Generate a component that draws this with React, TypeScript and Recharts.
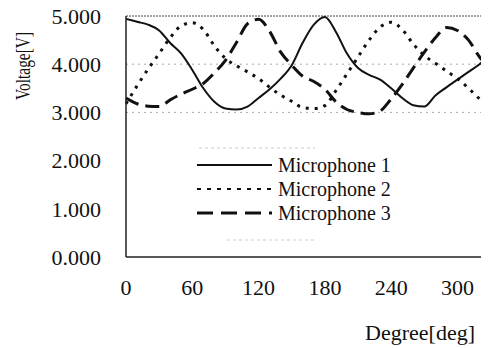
import { LineChart, Line, XAxis, YAxis, ReferenceLine } from 'recharts'

const degrees = [0, 10, 20, 30, 40, 50, 60, 70, 80, 90, 100, 110, 120, 130, 140, 150, 160, 170, 180, 190, 200, 210, 220, 230, 240, 250, 260, 270, 280, 290, 300, 310, 320, 324]
const mic1 = [4.94, 4.88, 4.82, 4.7, 4.44, 4.22, 3.88, 3.5, 3.22, 3.08, 3.06, 3.12, 3.3, 3.48, 3.7, 3.98, 4.45, 4.82, 4.98, 4.67, 4.22, 3.92, 3.78, 3.68, 3.5, 3.3, 3.15, 3.12, 3.35, 3.52, 3.68, 3.84, 4.0, 4.07]
const mic2 = [3.18, 3.55, 3.9, 4.22, 4.55, 4.8, 4.86, 4.72, 4.38, 4.12, 3.97, 3.84, 3.7, 3.52, 3.36, 3.23, 3.1, 3.08, 3.14, 3.45, 3.8, 4.15, 4.5, 4.77, 4.87, 4.72, 4.42, 4.18, 4.02, 3.86, 3.7, 3.5, 3.28, 3.2]
const mic3 = [3.3, 3.18, 3.13, 3.12, 3.26, 3.38, 3.48, 3.6, 3.82, 4.08, 4.45, 4.84, 4.93, 4.68, 4.25, 3.98, 3.75, 3.64, 3.48, 3.22, 3.06, 3.0, 2.97, 3.03, 3.28, 3.58, 3.92, 4.25, 4.55, 4.76, 4.7, 4.5, 4.15, 4.04]
const xTicks = [0, 60, 120, 180, 240, 300]
const yTicks = [0, 1, 2, 3, 4, 5]

const data = degrees.map((d, i) => ({ deg: d, m1: mic1[i], m2: mic2[i], m3: mic3[i] }))

const font = "'Liberation Serif', 'Times New Roman', serif"

const legendItems = [
  { name: 'Microphone 1', dash: undefined, width: 2 },
  { name: 'Microphone 2', dash: '4 6', width: 2 },
  { name: 'Microphone 3', dash: '16 8', width: 3 },
]

export default function App() {
  // cancel the body margin so chart coordinates equal page coordinates
  return (
    <div style={{ position: 'relative', width: 489, height: 348, margin: '-8px 0 0 -8px', fontFamily: font }}>
      <LineChart width={489} height={348} data={data} margin={{ top: 16, right: 5, left: 0, bottom: 51 }}>
        <ReferenceLine y={3} stroke="#aaa" strokeDasharray="2 4" />
        <ReferenceLine y={4} stroke="#aaa" strokeDasharray="2 4" />
        <ReferenceLine y={5} stroke="#444" strokeDasharray="2 1" />
        <ReferenceLine x={324} stroke="#444" strokeDasharray="2 1" />
        <XAxis
          dataKey="deg" type="number" domain={[0, 324]} ticks={xTicks} height={40}
          tick={{ fontSize: 22, fill: '#111', fontFamily: font }}
          axisLine={{ stroke: '#222', strokeWidth: 1.5 }} tickLine={false} tickSize={0} tickMargin={22}
        />
        <YAxis
          type="number" domain={[0, 5]} ticks={yTicks} width={126} interval={0}
          tickFormatter={(v: number) => v.toFixed(3)}
          tick={{ fontSize: 22, fill: '#111', fontFamily: font }}
          axisLine={{ stroke: '#222', strokeWidth: 1.5 }} tickLine={false} tickSize={0} tickMargin={25}
        />
        <Line type="monotone" dataKey="m1" name="Microphone 1" stroke="#111" strokeWidth={2} dot={false} isAnimationActive={false} />
        <Line type="monotone" dataKey="m2" name="Microphone 2" stroke="#111" strokeWidth={3} strokeDasharray="3 6" dot={false} isAnimationActive={false} />
        <Line type="monotone" dataKey="m3" name="Microphone 3" stroke="#111" strokeWidth={3} strokeDasharray="14 7" dot={false} isAnimationActive={false} />
      </LineChart>
      <svg width={489} height={348} style={{ position: 'absolute', left: 0, top: 0, pointerEvents: 'none' }}>
        <text x={23} y={66} transform="rotate(-90, 23, 66)" textAnchor="middle" dominantBaseline="central" fontSize={20} fontFamily={font} fill="#111" textLength={68} lengthAdjust="spacingAndGlyphs">Voltage[V]</text>
        <text x={475} y={340} textAnchor="end" fontSize={22} fontFamily={font} fill="#111">Degree[deg]</text>
        <g transform="translate(195, 148)">
          <line x1={4} y1={0} x2={120} y2={0} stroke="#ccc" strokeDasharray="3 3" />
          <line x1={32} y1={92} x2={120} y2={92} stroke="#ccc" strokeDasharray="3 3" />
          {legendItems.map((it, i) => (
            <g key={it.name}>
              <line x1={2} x2={77} y1={17 + i * 24} y2={17 + i * 24} stroke="#111" strokeWidth={it.width} strokeDasharray={it.dash} />
              <text x={83} y={17 + i * 24} dy="0.35em" fontSize={20} fontFamily={font} fill="#111">{it.name}</text>
            </g>
          ))}
        </g>
      </svg>
    </div>
  )
}
